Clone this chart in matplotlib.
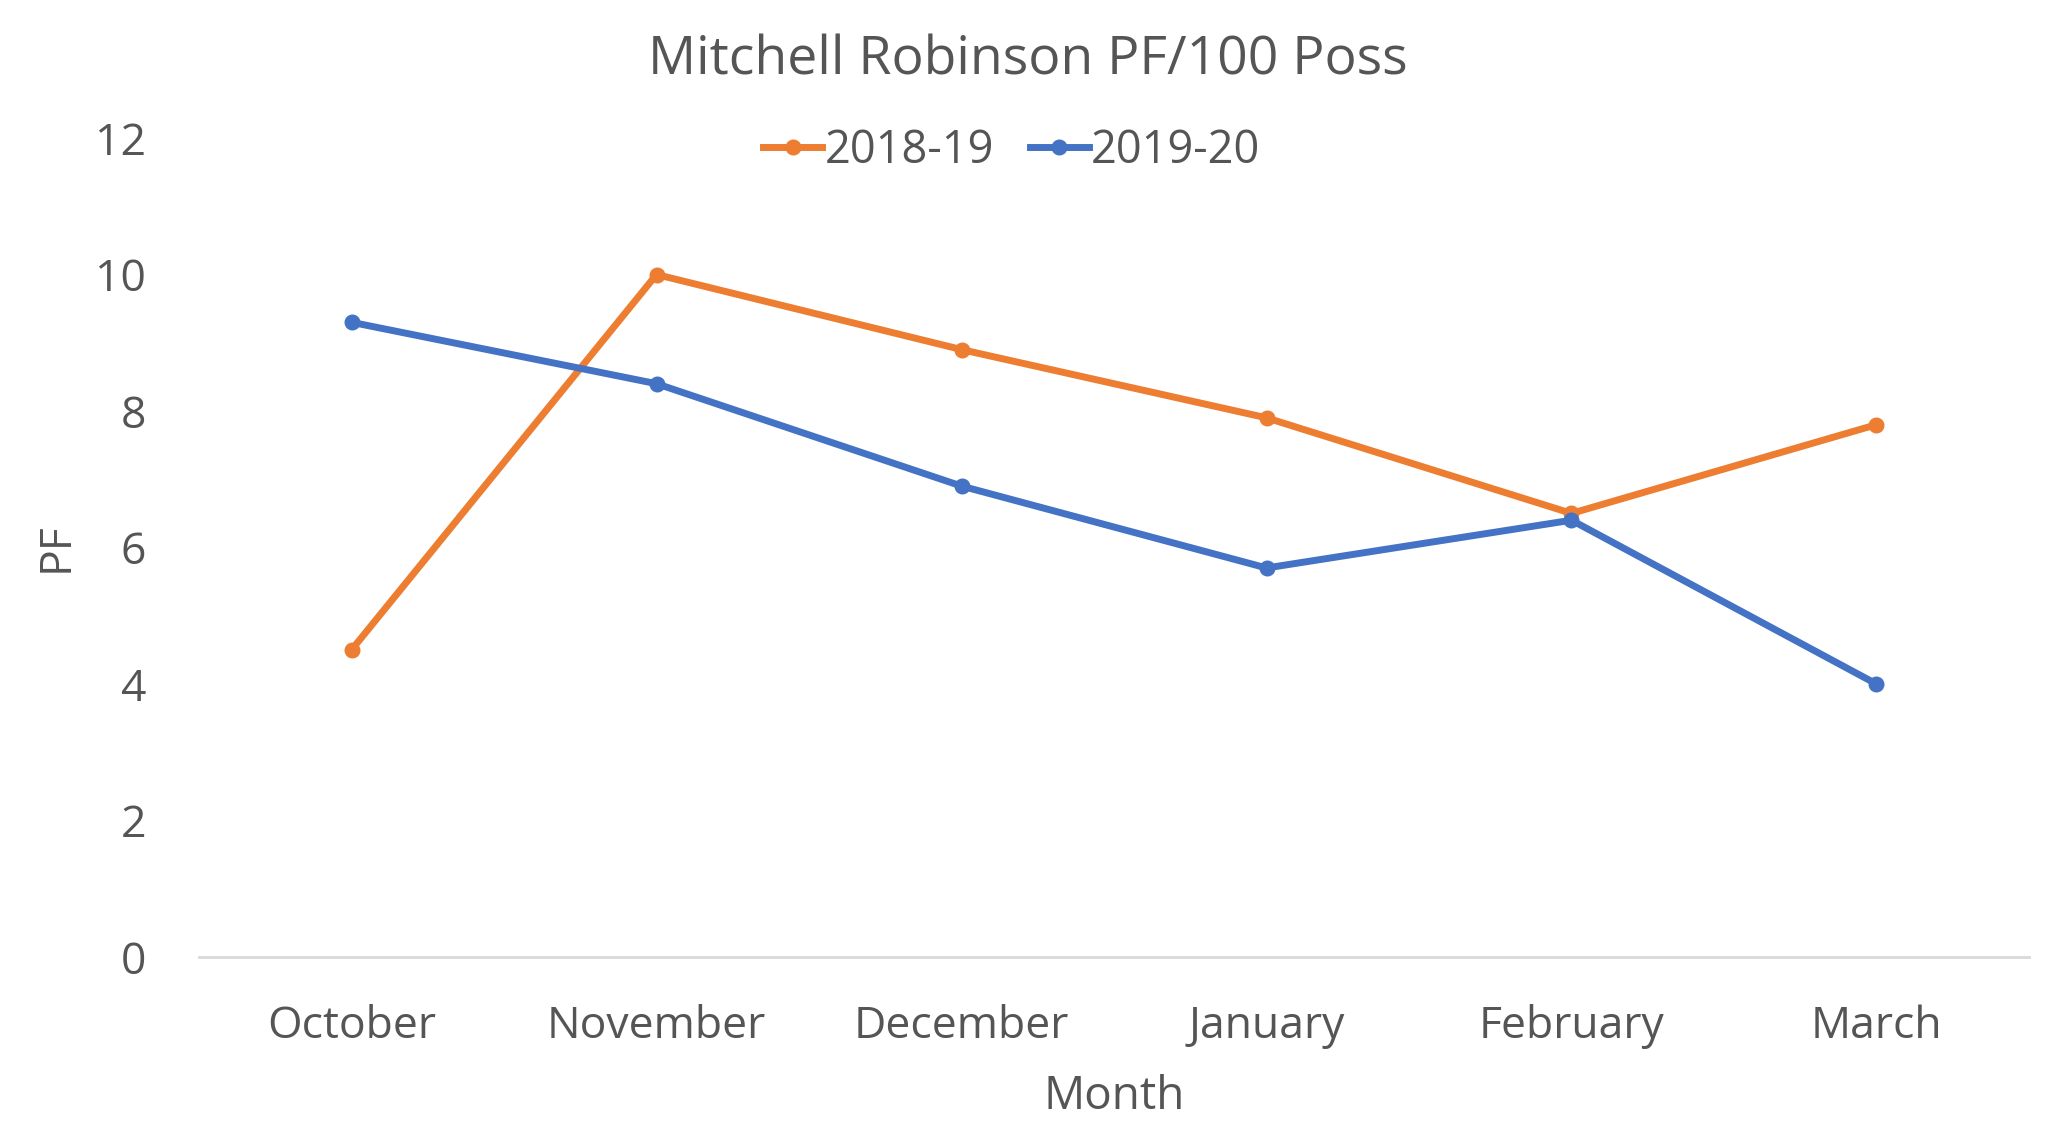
import matplotlib.pyplot as plt

months = ['October', 'November', 'December', 'January', 'February', 'March']
pf_2018_19 = [4.5, 10.0, 8.9, 7.9, 6.5, 7.8]
pf_2019_20 = [9.3, 8.4, 6.9, 5.7, 6.4, 4.0]
y_ticks = [0, 2, 4, 6, 8, 10, 12]

plt.rcParams['font.family'] = ['Open Sans', 'DejaVu Sans']
grey = '#555555'

fig = plt.figure(figsize=(20.48, 11.24), dpi=100)
ax = fig.add_axes([0.0972, 0.1486, 0.8935, 0.7286])

x = range(len(months))
ax.plot(x, pf_2018_19, color='#ED7D31', lw=5, marker='o', ms=10.5, label='2018-19')
ax.plot(x, pf_2019_20, color='#4472C4', lw=5, marker='o', ms=10.5, label='2019-20')

ax.set_xlim(-0.5, len(months) - 0.5)
ax.set_ylim(0, 12)
ax.set_yticks(y_ticks)
ax.set_xticks(list(x))
ax.set_xticklabels(months)
ax.tick_params(axis='both', length=0, labelsize=32, colors=grey)
ax.tick_params(axis='y', pad=38)
ax.tick_params(axis='x', pad=34)

for s in ['top', 'right', 'left']:
    ax.spines[s].set_visible(False)
ax.spines['bottom'].set_color('#D9D9D9')
ax.spines['bottom'].set_linewidth(2)

ax.set_xlabel('Month', fontsize=33, color=grey, labelpad=18)
ax.set_ylabel('PF', fontsize=32, color=grey, labelpad=12)

fig.text(0.502, 0.946, 'Mitchell Robinson PF/100 Poss', ha='center', va='center',
         fontsize=38.5, color=grey)
fig.legend(loc='center', bbox_to_anchor=(0.494, 0.866), ncol=2, frameon=False,
           fontsize=32.5, labelcolor=grey, handlelength=1.3, handletextpad=0.05,
           columnspacing=0.8)

plt.savefig('out.png', dpi=100)
